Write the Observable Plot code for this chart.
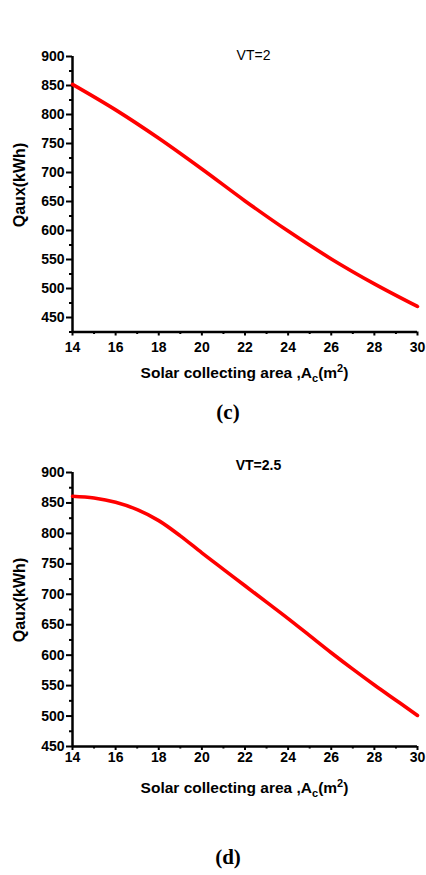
<!DOCTYPE html>
<html>
<head>
<meta charset="utf-8">
<script src="https://cdn.jsdelivr.net/npm/d3@7"></script>
<script src="https://cdn.jsdelivr.net/npm/@observablehq/plot@0.6"></script>
<style>
  html, body { margin: 0; padding: 0; background: #fff; }
  #page { position: relative; width: 426px; height: 875px; overflow: hidden; }
  #page svg { position: absolute; left: 0; }
</style>
</head>
<body>
<div id="page"></div>
<script>
// Solar collecting area (m²) at which Qaux was evaluated, VT = 2
const areaVT2 = [14, 16, 18, 20, 22, 24, 26, 28, 30];
// Auxiliary energy Qaux (kWh), tank volume ratio VT = 2
const qauxVT2 = [852, 808, 759, 706, 651, 599, 551, 508, 469];
// Solar collecting area (m²), VT = 2.5
const areaVT25 = [14, 15, 16, 17, 18, 19, 20, 21, 22, 23, 24, 25, 26, 27, 28, 29, 30];
// Auxiliary energy Qaux (kWh), tank volume ratio VT = 2.5
const qauxVT25 = [861, 858, 851, 839, 821, 796, 768, 741, 714, 687, 660, 632, 604, 577, 551, 526, 501];

// Axis ticks
const areaMajor = [14, 16, 18, 20, 22, 24, 26, 28, 30];
const areaMinor = [15, 17, 19, 21, 23, 25, 27, 29];
const qauxMajor = [450, 500, 550, 600, 650, 700, 750, 800, 850, 900];
const qauxMinor = [425, 475, 525, 575, 625, 675, 725, 775, 825, 875];

const sans = "'Liberation Sans', Arial, Helvetica, sans-serif";
const serif = "'Liberation Serif', 'Times New Roman', serif";

function panel({a, q, yDomain, top, height, marginTop, marginBottom, tickPad,
                vt, vtWeight, vtDx, vtDy, yLabelY, xLabelY, tag, tagY}) {
  const minorY = qauxMinor.filter(v => v >= yDomain[0]);
  const tickText = {fontSize: 14, fontWeight: "bold", fill: "#000"};
  const svg = Plot.plot({
    width: 426,
    height,
    marginLeft: 72,
    marginRight: 9,
    marginTop,
    marginBottom,
    x: {domain: [14, 30]},
    y: {domain: yDomain},
    style: {fontFamily: sans, fontSize: "14px", fontWeight: "bold", color: "#000", background: "#fff"},
    marks: [
      Plot.axisX({ticks: areaMajor, tickSize: 4, tickPadding: tickPad, label: null, strokeWidth: 2,
        tickFormat: d => String(d), ...tickText}),
      Plot.axisX({ticks: areaMinor, tickSize: 2.5, label: null, strokeWidth: 2, tickFormat: () => ""}),
      Plot.axisY({ticks: qauxMajor, tickSize: 6, tickPadding: 2, label: null, strokeWidth: 2,
        tickFormat: d => String(d), ...tickText}),
      Plot.axisY({ticks: minorY, tickSize: 3, label: null, strokeWidth: 2, tickFormat: () => ""}),
      Plot.ruleX([14], {stroke: "#000", strokeWidth: 2.5}),
      Plot.ruleY([yDomain[0]], {stroke: "#000", strokeWidth: 2.5}),
      Plot.line(a, {x: d => d, y: (d, i) => q[i], stroke: "#ff0000", strokeWidth: 3.6, curve: "monotone-x"}),
      Plot.text([vt], {frameAnchor: "top", dx: vtDx, dy: vtDy, lineAnchor: "bottom",
        fontSize: 14, fontWeight: vtWeight, fill: "#000"})
    ]
  });
  svg.style.top = top + "px";
  const s = d3.select(svg);
  // rotated y-axis title
  s.append("text")
    .attr("transform", `translate(25,${yLabelY}) rotate(-90)`)
    .attr("text-anchor", "middle")
    .attr("font-family", sans).attr("font-size", 16).attr("font-weight", "bold").attr("fill", "#000")
    .text("Qaux(kWh)");
  // x-axis title with subscript and superscript
  const xt = s.append("text")
    .attr("x", 244.5).attr("y", xLabelY)
    .attr("text-anchor", "middle")
    .attr("font-family", sans).attr("font-size", 15.5).attr("font-weight", "bold").attr("fill", "#000");
  xt.append("tspan").text("Solar collecting area ,A");
  xt.append("tspan").attr("font-size", 11).attr("dy", 4).text("c");
  xt.append("tspan").attr("dy", -4).text("(m");
  xt.append("tspan").attr("font-size", 11).attr("dy", -6).text("2");
  xt.append("tspan").attr("dy", 6).text(")");
  // panel tag
  s.append("text")
    .attr("x", 228).attr("y", tagY)
    .attr("text-anchor", "middle")
    .attr("font-family", serif).attr("font-size", 21).attr("font-weight", "bold").attr("fill", "#000")
    .text(tag);
  return svg;
}

const page = document.getElementById("page");
page.append(panel({
  a: areaVT2, q: qauxVT2, yDomain: [425, 900], top: 0, height: 440,
  marginTop: 56, marginBottom: 108.5, tickPad: 6,
  vt: "VT=2", vtWeight: "normal", vtDx: 8.5, vtDy: 3.5,
  yLabelY: 185, xLabelY: 378, tag: "(c)", tagY: 419
}));
page.append(panel({
  a: areaVT25, q: qauxVT25, yDomain: [450, 900], top: 440, height: 435,
  marginTop: 32, marginBottom: 129, tickPad: 2,
  vt: "VT=2.5", vtWeight: "bold", vtDx: 13.5, vtDy: -2.5,
  yLabelY: 160, xLabelY: 353, tag: "(d)", tagY: 424
}));
</script>
</body>
</html>
